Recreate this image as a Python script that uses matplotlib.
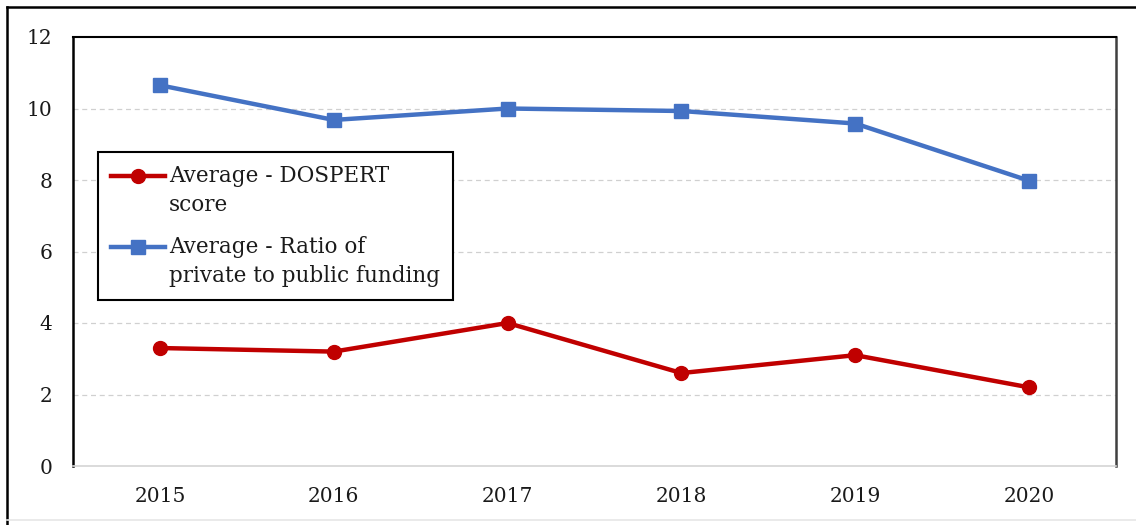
import matplotlib
matplotlib.use("Agg")
import matplotlib.pyplot as plt
from matplotlib.lines import Line2D
from matplotlib.legend_handler import HandlerLine2D

years = ["2015", "2016", "2017", "2018", "2019", "2020"]
dospert = [3.3, 3.2, 4.0, 2.6, 3.1, 2.2]
funding_ratio = [10.65, 9.68, 10.0, 9.93, 9.58, 7.98]
y_ticks = [0, 2, 4, 6, 8, 10, 12]

red = "#C00000"
blue = "#4472C4"

plt.rcParams["font.family"] = ["DejaVu Serif"]


class TopAlignedLine(HandlerLine2D):
    """Legend handle drawn level with the first line of a two-line label."""

    def create_artists(self, legend, orig_handle, xdescent, ydescent,
                       width, height, fontsize, trans):
        artists = super().create_artists(legend, orig_handle, xdescent, ydescent,
                                         width, height, fontsize, trans)
        for a in artists:
            a.set_ydata([y + 0.72 * fontsize for y in a.get_ydata()])
        return artists


W, H = 1136, 525
fig = plt.figure(figsize=(W / 100, H / 100), dpi=100)
ax = fig.add_axes([73 / W, 1 - 466 / H, (1116 - 73) / W, (466 - 37) / H])

x = list(range(len(years)))
ax.plot(x, funding_ratio, color=blue, lw=3.2, marker="s", ms=10,
        label="Average - Ratio of\nprivate to public funding", zorder=3)
ax.plot(x, dospert, color=red, lw=3.2, marker="o", ms=10,
        label="Average - DOSPERT\nscore", zorder=3)

ax.set_xlim(-0.5, len(years) - 0.5)
ax.set_ylim(0, 12)
ax.set_xticks(x)
ax.set_xticklabels(years)
ax.set_yticks(y_ticks)
ax.tick_params(axis="both", length=0, labelsize=14.5, colors="#1a1a1a")
ax.tick_params(axis="y", pad=15)
ax.tick_params(axis="x", pad=15)

for v in y_ticks[1:-1]:
    ax.axhline(v, color="#d0d0d0", lw=0.9, ls=(0, (4, 3)), zorder=1)

ax.spines["left"].set_color("black")
ax.spines["left"].set_linewidth(1.8)
ax.spines["top"].set_color("black")
ax.spines["top"].set_linewidth(1.5)
ax.spines["right"].set_color("#404040")
ax.spines["right"].set_linewidth(1.8)
ax.spines["bottom"].set_color("#d4d4d4")
ax.spines["bottom"].set_linewidth(1.2)

handles, labels = ax.get_legend_handles_labels()
leg = ax.legend(handles[::-1], labels[::-1], loc="upper left",
                bbox_to_anchor=((98 - 73) / (1116 - 73), 1 - (152 - 37) / (466 - 37)),
                fontsize=15.5, frameon=True, fancybox=False, framealpha=1,
                edgecolor="black", handlelength=2.5, handletextpad=0.2,
                borderaxespad=0, borderpad=0.6, labelspacing=0.95,
                handler_map={Line2D: TopAlignedLine()})
leg.get_frame().set_linewidth(1.5)
for t in leg.get_texts():
    t.set_color("#1a1a1a")
    t.set_linespacing(1.4)

# outer frame around the whole figure
fig.add_artist(Line2D([7 / W, 1], [1 - 6.5 / H, 1 - 6.5 / H], color="black", lw=1.8,
                      transform=fig.transFigure))
fig.add_artist(Line2D([7 / W, 7 / W], [0, 1 - 6.5 / H], color="black", lw=1.8,
                      transform=fig.transFigure))
fig.add_artist(Line2D([7 / W, 1], [1 - 520 / H, 1 - 520 / H], color="#e6e6e6", lw=1.2,
                      transform=fig.transFigure))

fig.savefig("out.png", dpi=100)
